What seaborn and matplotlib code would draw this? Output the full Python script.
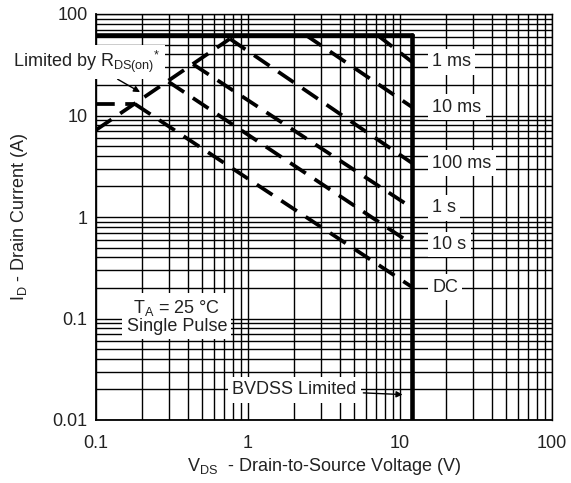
import numpy as np
import pandas as pd
import matplotlib
matplotlib.use("Agg")
import matplotlib.pyplot as plt
import seaborn as sns

# safe operating area data
bvdss = 12.0          # V, vertical limit
id_max = 62.0         # A, horizontal limit
rds_v = [0.1, 0.76]   # R_DS(on) limit line
rds_i = [7.2, 57.0]
dc_flat_v = [0.1, 0.18]
dc_flat_i = [13.0, 13.0]

pulse_names = ["1 ms", "10 ms", "100 ms", "1 s", "10 s", "DC"]
pulse_v_start = [7.1, 2.4, 0.76, 0.435, 0.30, 0.18]
pulse_i_start = [62.0, 62.0, 57.0, 32.0, 21.5, 13.0]
pulse_i_end = [33.7, 12.1, 3.4, 1.23, 0.54, 0.204]

x_ticks = [0.1, 1, 10, 100]
x_labels = ["0.1", "1", "10", "100"]
y_ticks = [0.01, 0.1, 1, 10, 100]
y_labels = ["0.01", "0.1", "1", "10", "100"]

sns.set_style("white")
plt.rcParams["font.family"] = ["Liberation Sans", "DejaVu Sans"]
plt.rcParams["mathtext.fontset"] = "custom"
plt.rcParams["mathtext.rm"] = "Liberation Sans"

fs = 13
tc = "#222222"

fig = plt.figure(figsize=(5.71, 4.83), dpi=100)
ax = fig.add_axes([96 / 571, 63 / 483, 456 / 571, 406 / 483])
ax.set_xscale("log")
ax.set_yscale("log")
ax.set_xlim(0.1, 100)
ax.set_ylim(0.01, 100)

ax.grid(which="both", color="black", lw=1.0)
ax.set_axisbelow(True)
for s in ax.spines.values():
    s.set_color("black")
    s.set_linewidth(1.0)
ax.spines["left"].set_linewidth(1.3)
ax.spines["bottom"].set_linewidth(1.3)

ax.set_xticks(x_ticks, labels=x_labels)
ax.set_yticks(y_ticks, labels=y_labels)
ax.tick_params(which="both", length=0, labelsize=fs, colors=tc)
ax.tick_params(axis="x", pad=11)
ax.tick_params(axis="y", pad=6)

dash_kw = dict(color="black", lw=2.7, dashes=(5, 2.8), zorder=3)

# thick limit lines
sns.lineplot(x=[0.1, bvdss], y=[id_max, id_max], ax=ax, color="black", lw=3.3, zorder=4)
sns.lineplot(x=[bvdss, bvdss], y=[id_max, 0.01], ax=ax, color="black", lw=3.3, zorder=4,
             sort=False, estimator=None)

sns.lineplot(x=rds_v, y=rds_i, ax=ax, **dash_kw)
sns.lineplot(x=dc_flat_v, y=dc_flat_i, ax=ax, **dash_kw)
box = dict(facecolor="white", edgecolor="none", pad=3)
for name, v0, i0, i1 in zip(pulse_names, pulse_v_start, pulse_i_start, pulse_i_end):
    sns.lineplot(x=[v0, bvdss], y=[i0, i1], ax=ax, **dash_kw)
    ax.text(16.3, i1, name, ha="left", va="center", fontsize=fs, color=tc,
            zorder=5, bbox=box)

ax.text(0.34, 0.104, "T$_\\mathregular{A}$ = 25 °C\nSingle Pulse", ha="center", va="center",
        fontsize=fs, color=tc, linespacing=1.0, zorder=5, bbox=box)

ax.annotate("BVDSS Limited", xy=(10.4, 0.0178), xytext=(0.785, 0.0198),
            ha="left", va="center", fontsize=fs, color=tc, zorder=5, bbox=box,
            arrowprops=dict(arrowstyle="-|>", color="black", lw=1.0, shrinkA=2, shrinkB=0,
                            mutation_scale=9))

ax.annotate("Limited by $\\mathregular{R_{DS(on)}{}^{*}}$", xy=(0.195, 17),
            xytext=(-0.182, 0.882),
            textcoords="axes fraction", ha="left", va="center", fontsize=fs, color=tc,
            zorder=5, bbox=box, annotation_clip=False,
            arrowprops=dict(arrowstyle="-|>", color="black", lw=1.0, shrinkA=0, shrinkB=0,
                            mutation_scale=9, relpos=(0.66, 0.0)))

ax.set_xlabel("V$_\\mathregular{DS}$  - Drain-to-Source Voltage (V)", fontsize=fs, color=tc, labelpad=3)
ax.set_ylabel("I$_\\mathregular{D}$ - Drain Current (A)", fontsize=fs, color=tc, labelpad=16)

fig.savefig("out.png", dpi=100)
